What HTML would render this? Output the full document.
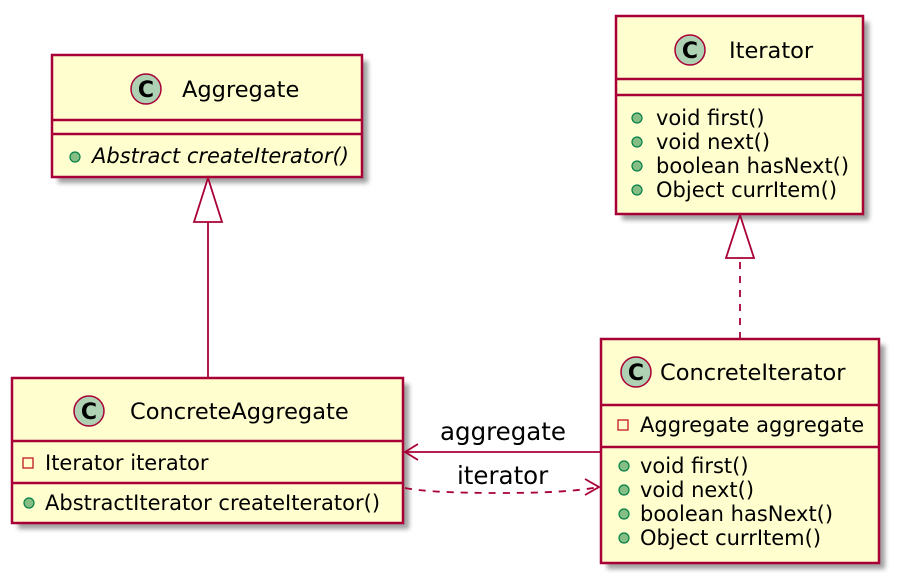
<!DOCTYPE html>
<html><head><meta charset="utf-8"><style>body{margin:0;background:#fff}svg{display:block}
svg text{font-family:"DejaVu Sans","Liberation Sans",sans-serif;fill:#000}
.t{font-size:22.5px}.m{font-size:21px}.c{font-size:22px;font-weight:bold}.l{font-size:24.5px}.i{font-style:italic}
</style></head><body>
<svg width="899" height="583" viewBox="0 0 899 583" xmlns="http://www.w3.org/2000/svg">
<defs><filter id="sh" x="-10%" y="-10%" width="130%" height="130%"><feGaussianBlur stdDeviation="2.5"/></filter></defs>
<g fill="#777" opacity="0.7" filter="url(#sh)">
<rect x="58" y="61" width="310" height="122"/><rect x="622" y="22" width="247" height="198"/>
<rect x="18" y="384" width="391" height="145"/><rect x="607" y="345" width="278" height="224"/>
</g>
<g fill="#FEFECE" stroke="#A80036" stroke-width="2.5">
<rect x="52" y="55" width="310" height="122"/><rect x="616" y="16" width="247" height="198"/>
<rect x="12" y="378" width="391" height="145"/><rect x="601" y="339" width="278" height="224"/>
</g>
<g stroke="#A80036" stroke-width="2.5">
<line x1="52" y1="120" x2="362" y2="120"/><line x1="52" y1="134" x2="362" y2="134"/>
<line x1="616" y1="79" x2="863" y2="79"/><line x1="616" y1="95" x2="863" y2="95"/>
<line x1="12" y1="441" x2="403" y2="441"/><line x1="12" y1="483" x2="403" y2="483"/>
<line x1="601" y1="405" x2="879" y2="405"/><line x1="601" y1="447" x2="879" y2="447"/>
</g>
<g fill="#ADD1B2" stroke="#A80036" stroke-width="1.5">
<circle cx="146" cy="89" r="15"/><circle cx="690" cy="50" r="15"/><circle cx="89" cy="411" r="15"/><circle cx="636" cy="372" r="15"/>
</g>
<g text-anchor="middle">
<text class="c" x="146" y="97">C</text><text class="c" x="690" y="58">C</text><text class="c" x="89" y="419">C</text><text class="c" x="636" y="380">C</text>
</g>
<text class="t" x="182" y="97">Aggregate</text><text class="t" x="729" y="58">Iterator</text>
<text class="t" x="130" y="419">ConcreteAggregate</text><text class="t" x="660" y="380">ConcreteIterator</text>
<text class="m i" x="92" y="163">Abstract createIterator()</text>
<text class="m" x="656" y="125">void first()</text><text class="m" x="656" y="149">void next()</text><text class="m" x="656" y="173">boolean hasNext()</text><text class="m" x="656" y="197">Object currItem()</text>
<text class="m" x="45" y="470">Iterator iterator</text><text class="m" x="45" y="510">AbstractIterator createIterator()</text>
<text class="m" x="640" y="432">Aggregate aggregate</text>
<text class="m" x="640" y="473">void first()</text><text class="m" x="640" y="497">void next()</text><text class="m" x="640" y="521">boolean hasNext()</text><text class="m" x="640" y="545">Object currItem()</text>
<g fill="#84BE84" stroke="#038048" stroke-width="1.2">
<circle cx="75" cy="157" r="5"/><circle cx="637" cy="118" r="5"/><circle cx="637" cy="142" r="5"/><circle cx="637" cy="166" r="5"/><circle cx="637" cy="190" r="5"/>
<circle cx="29" cy="503" r="5"/><circle cx="624" cy="466" r="5"/><circle cx="624" cy="490" r="5"/><circle cx="624" cy="514" r="5"/><circle cx="624" cy="538" r="5"/>
</g>
<g fill="none" stroke="#C82930" stroke-width="1.4">
<rect x="23" y="458" width="10" height="10"/><rect x="618" y="420" width="10" height="10"/>
</g>
<g stroke="#A80036" stroke-width="1.8" fill="none">
<line x1="208" y1="378" x2="208" y2="222"/><polygon points="208,178 194,222 222,222" fill="#fff"/>
<line x1="740" y1="339" x2="740" y2="258" stroke-dasharray="7,7"/><polygon points="740,215 726,258 754,258" fill="#fff"/>
<line x1="601" y1="452" x2="405" y2="452"/><polyline points="418,444 405,452 418,460"/>
<path d="M405,488 Q430,493 500,493 Q570,493 598,487" stroke-dasharray="7,7"/><polyline points="585,479 599,487 585,495"/>
</g>
<text class="l" x="440" y="440">aggregate</text><text class="l" x="457" y="484">iterator</text>
</svg>
</body></html>
